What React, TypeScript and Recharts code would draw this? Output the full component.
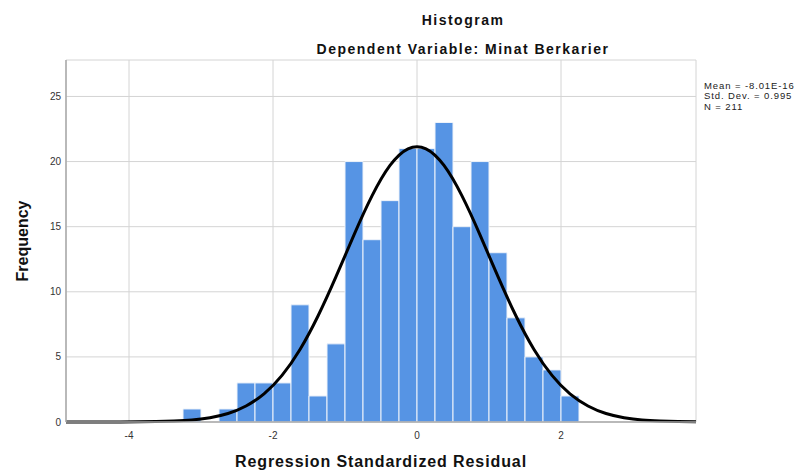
import { Bar, CartesianGrid, ComposedChart, Line, XAxis, YAxis } from "recharts"

// bin centres (bin width 0.25)
const binCenters = [
  -4.875, -4.625, -4.375, -4.125, -3.875, -3.625, -3.375, -3.125, -2.875, -2.625, -2.375, -2.125,
  -1.875, -1.625, -1.375, -1.125, -0.875, -0.625, -0.375, -0.125, 0.125, 0.375, 0.625, 0.875,
  1.125, 1.375, 1.625, 1.875, 2.125, 2.375, 2.625, 2.875, 3.125, 3.375, 3.625, 3.875,
]

const frequencies = [
  null, null, null, null, null, null, null, 1, null, 1, 3, 3,
  3, 9, 2, 6, 20, 14, 17, 21, 21, 23, 15, 20,
  13, 8, 5, 4, 2, null, null, null, null, null, null, null,
]

// normal curve
const normalCurve = [
  0, 0, 0.001, 0.004, 0.01, 0.03, 0.07, 0.15, 0.33, 0.65, 1.23, 2.16,
  3.58, 5.57, 8.14, 11.16, 14.37, 17.36, 19.7, 20.98, 20.98, 19.7, 17.36, 14.37,
  11.16, 8.14, 5.57, 3.58, 2.16, 1.23, 0.65, 0.33, 0.15, 0.07, 0.03, 0.01,
]

const xTicks = [-4, -2, 0, 2]
const yTicks = [0, 5, 10, 15, 20, 25]

const stats = ["Mean = -8.01E-16", "Std. Dev. = 0.995", "N = 211"]

const data = binCenters.map((x, i) => ({
  x,
  freq: frequencies[i],
  curve: normalCurve[i],
}))

const font = '"Liberation Sans", Arial, sans-serif'
const tickStyle = { fontSize: 10, fill: "#333333", fontFamily: font }

export default function App() {
  return (
    <div style={{ position: "absolute", left: 0, top: 0, width: 802, height: 473, fontFamily: font, background: "#fff" }}>
      <ComposedChart
        width={802}
        height={473}
        data={data}
        margin={{ top: 60, right: 106, bottom: 21, left: 26 }}
        barCategoryGap={0}
      >
        <CartesianGrid stroke="#d4d4d4" strokeWidth={1} />
        <XAxis
          dataKey="x"
          type="number"
          domain={[-4.875, 3.875]}
          ticks={xTicks}
          allowDataOverflow
          interval={0}
          height={30}
          tickLine={false}
          tickSize={0}
          tickMargin={10}
          tick={tickStyle}
          axisLine={{ stroke: "#a8a8a8", strokeWidth: 1.5 }}
        />
        <YAxis
          type="number"
          domain={[0, 27.8]}
          ticks={yTicks}
          interval={0}
          width={40}
          tickLine={false}
          tickSize={0}
          tickMargin={5}
          tick={tickStyle}
          axisLine={{ stroke: "#a8a8a8", strokeWidth: 1.5 }}
        />
        <Bar dataKey="freq" fill="#5694e4" stroke="#eef3fa" strokeWidth={1} isAnimationActive={false} />
        <Line
          dataKey="curve"
          type="natural"
          stroke="#000000"
          strokeWidth={3}
          dot={false}
          activeDot={false}
          isAnimationActive={false}
        />
      </ComposedChart>

      <div style={{ position: "absolute", left: 463, top: 13, transform: "translateX(-50%)", whiteSpace: "nowrap", fontSize: 14, lineHeight: "14px", fontWeight: "bold", letterSpacing: 1.5, color: "#111" }}>
        Histogram
      </div>
      <div style={{ position: "absolute", left: 463, top: 42, transform: "translateX(-50%)", whiteSpace: "nowrap", fontSize: 14, lineHeight: "14px", fontWeight: "bold", letterSpacing: 1.5, color: "#111" }}>
        Dependent Variable: Minat Berkarier
      </div>
      <div style={{ position: "absolute", left: 704, top: 80.5, whiteSpace: "nowrap", fontSize: 9.5, lineHeight: "10.5px", letterSpacing: 0.9, color: "#222" }}>
        {stats.map((s) => (
          <div key={s}>{s}</div>
        ))}
      </div>
      <div style={{ position: "absolute", left: 23, top: 241, transform: "translate(-50%, -50%) rotate(-90deg)", whiteSpace: "nowrap", fontSize: 16, lineHeight: "16px", fontWeight: "bold", color: "#111" }}>
        Frequency
      </div>
      <div style={{ position: "absolute", left: 381, top: 454, transform: "translateX(-50%)", whiteSpace: "nowrap", fontSize: 16, lineHeight: "16px", fontWeight: "bold", letterSpacing: 0.9, color: "#111" }}>
        Regression Standardized Residual
      </div>
    </div>
  )
}
